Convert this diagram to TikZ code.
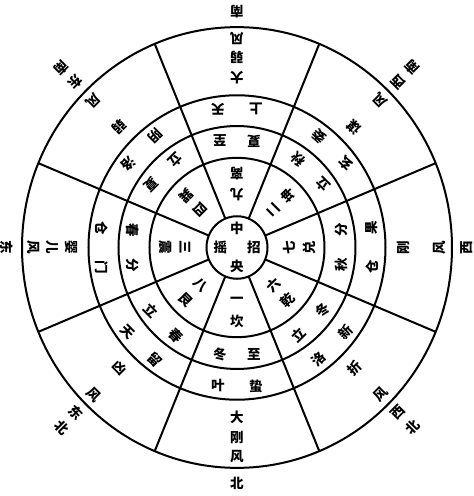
\documentclass[tikz,border=0pt]{standalone}
\usepackage{fontspec}
\newfontfamily\cjk{Noto Sans CJK SC}
\newcount\labn
\newcommand\clab[4]{%
  \pgfmathsetmacro\labx{(#2)*cos(#1)-(#3)*sin(#1)}%
  \pgfmathsetmacro\laby{(#2)*sin(#1)+(#3)*cos(#1)}%
  \global\advance\labn by 1
  \node[lab,rotate=#1] (L\the\labn) at (\labx,\laby) {#4};}
\newcommand\secin[7]{%
  \clab{#1}{0}{-52}{#2}\clab{#1}{0}{-72}{#3}%
  \clab{#1}{-17}{-104}{#4}\clab{#1}{17}{-104}{#5}%
  \clab{#1}{-19}{-135}{#6}\clab{#1}{19}{-135}{#7}}
\newcommand\windA[4]{\clab{#1}{0}{-166}{#2}\clab{#1}{0}{-185}{#3}\clab{#1}{0}{-204}{#4}}
\newcommand\windB[3]{\clab{#1}{0}{-166}{#2}\clab{#1}{0}{-203}{#3}}
\newcommand\dirA[2]{\clab{#1}{0}{-230}{#2}}
\newcommand\dirB[3]{\clab{#1}{0}{-228}{#2}\clab{#1}{0}{-248}{#3}}
\begin{document}
\begin{tikzpicture}[x=1pt,y=1.025pt,
  ring/.style={line width=2pt},
  lab/.style={font=\cjk\bfseries\fontsize{13.5}{13.5}\selectfont, inner sep=0pt}]
\useasboundingbox (-237pt,-248.5pt) rectangle (237pt,247.5pt);
\fill[white] (-237pt,-248.5pt) rectangle (237pt,247.5pt);
\coordinate (c) at (0,0);
\foreach \r in {30.5,87.5,118.5,148.5,215} \draw[ring] (c) circle[radius=\r];
\foreach \a in {22.5,67.5,...,337.5} \draw[ring] (\a:30.5) -- (\a:215);
% centre
\node[lab] (cz) at (0,18.5) {中};
\node[lab] (cy) at (0,-18.5) {央};
\node[lab] (cl) at (-16.5,0) {摇};
\node[lab] (cr) at (17,0) {招};
% sectors
\secin{0}{一}{坎}{冬}{至}{叶}{蛰}\windA{0}{大}{刚}{风}\dirA{0}{北}
\secin{-45}{八}{艮}{立}{春}{天}{留}\windB{-45}{凶}{风}\dirB{-45}{东}{北}
\secin{-90}{三}{震}{春}{分}{仓}{门}\windA{-90}{婴}{儿}{风}\dirA{-90}{东}
\secin{-135}{四}{巽}{立}{夏}{阴}{洛}\windB{-135}{弱}{风}\dirB{-135}{东}{南}
\secin{180}{九}{离}{夏}{至}{上}{天}\windA{180}{大}{弱}{风}\dirA{180}{南}
\secin{135}{二}{坤}{立}{秋}{玄}{委}\windB{135}{谋}{风}\dirB{135}{西}{南}
\secin{90}{七}{兑}{秋}{分}{仓}{果}\windB{90}{刚}{风}\dirA{90}{西}
\secin{45}{六}{乾}{立}{冬}{洛}{新}\windB{45}{折}{风}\dirB{45}{西}{北}
\end{tikzpicture}
\end{document}
